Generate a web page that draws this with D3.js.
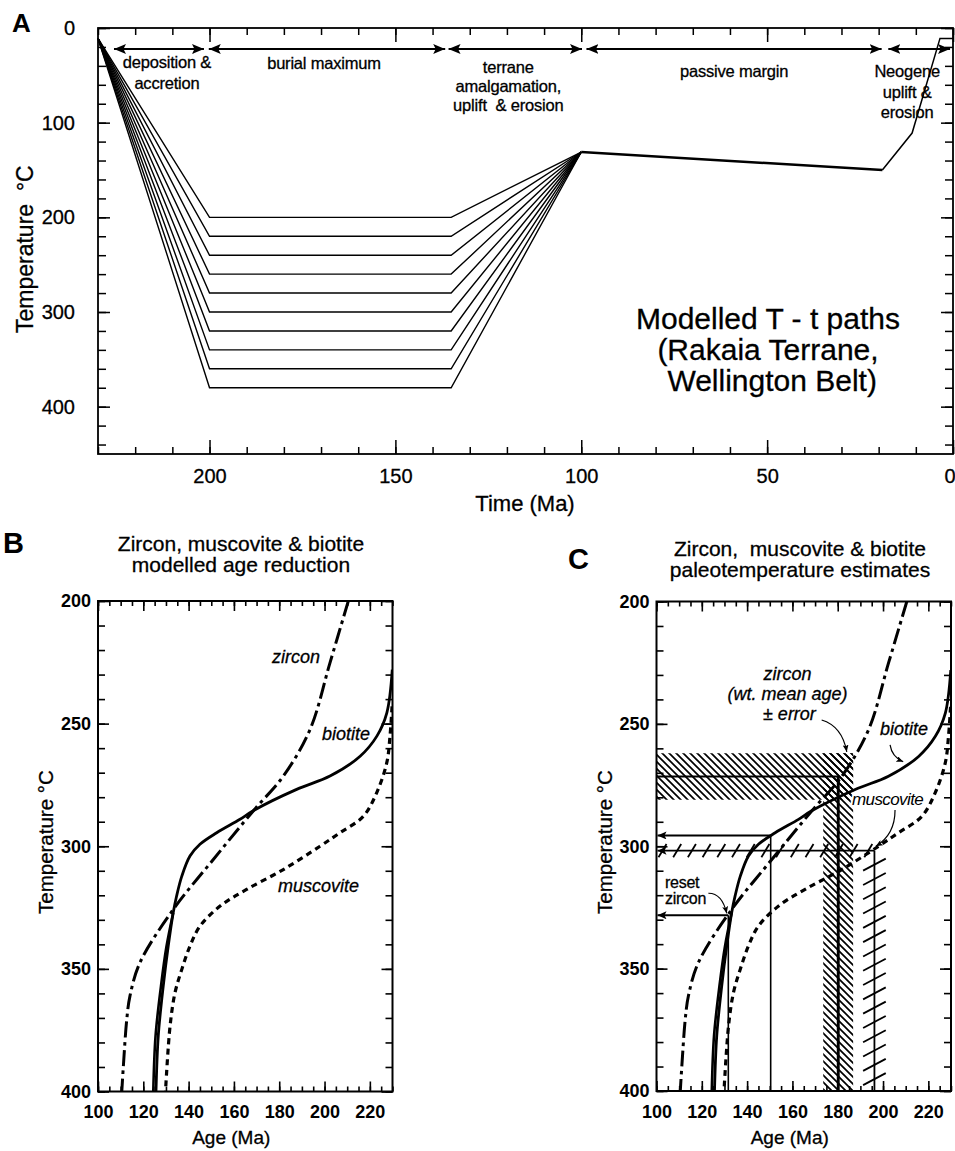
<!DOCTYPE html>
<html>
<head>
<meta charset="utf-8">
<script src="https://cdn.jsdelivr.net/npm/d3@7"></script>
<style>
body { margin: 0; background: #fff; }
svg { font-family: "Liberation Sans", Arial, Helvetica, sans-serif; }
text { white-space: pre; }
.ink { stroke: #000; stroke-width: 0.3; }
</style>
</head>
<body>
<svg id="fig" width="955" height="1151"></svg>
<script>
// ---------- panel A data : modelled T-t paths ----------
var peakTemps = [200, 220, 240, 260, 280, 300, 320, 340, 360, 380];
var burialAges = [230, 200, 135, 100];      // start, peak reached, uplift starts, join
var startTemp = 11;
var joinTemp = 131;
var passiveMargin = [[100, 131], [19, 150]];
var neogene = [[19, 150], [11, 111], [3.5, 11], [0, 11]];
var phaseArrows = [[225.7, 201.5], [200.2, 136.6], [135.7, 99.8], [98.6, 19.2], [17.4, 0.8]];
var phaseLabels = [
    ["deposition &", "accretion"],
    ["burial maximum"],
    ["terrane", "amalgamation,", "uplift  & erosion"],
    ["passive margin"],
    ["Neogene", "uplift &", "erosion"]
];
var timeTicks = [0, 50, 100, 150, 200];
var tempTicksA = [0, 100, 200, 300, 400];

// ---------- panels B and C data : age reduction curves (Ma, degC) ----------
var zircon = [[210.5, 200], [202.4, 225.2], [193.6, 252.4], [181.8, 271.4], [168.7, 285.4],
    [150.9, 305.4], [133.2, 325.8], [118.5, 347.5], [114.1, 361.1], [112.7, 370.6],
    [111.2, 389.6], [110.5, 400]];
var biotite = [[229.9, 228], [227.5, 245.6], [223.1, 255.1], [215.7, 263.3], [202.4, 271.4],
    [187.7, 276.8], [168.7, 285.4], [162.7, 289], [152.4, 294.5], [145, 299.2],
    [140.6, 304], [137, 312.2], [134.7, 320.3], [133.2, 327.1], [131, 340.7],
    [128.8, 357], [126.6, 377.4], [125.6, 400]];
var biotiteLower = [[133.2, 327.1], [130.2, 341], [127.8, 357], [125.4, 377.4], [124.4, 400]];
var muscovite = [[229.8, 243], [228.9, 255.1], [227.5, 265.8], [223.1, 278], [217.1, 287.8],
    [206.8, 294.5], [198, 300], [181.8, 309.5], [165.6, 317.6], [153.9, 324.4],
    [145, 332.6], [140.6, 340.7], [137, 350.2], [134, 359.7], [131.8, 373.4], [129.8, 400]];
var ageTicks = [100, 120, 140, 160, 180, 200, 220];
var tempTicksBC = [200, 250, 300, 350, 400];

// panel C estimates
var zirconEst = { age: 180.2, ageErr: 6.6, temp: 271.5, tempErr: 9.5 };
var muscoviteEst = { age: 196.2, ageErr: 5, temp: 301.8, tempErr: 2.7 };
var biotiteEst = { age: 150.4, temp: 295.6 };
var resetZircon = { age: 131.7, temp: 328.2 };

var svg = d3.select("#fig");
var defs = svg.append("defs");

// arrow heads
defs.append("marker").attr("id", "headA")
    .attr("viewBox", "0 0 12 10").attr("refX", 12).attr("refY", 5)
    .attr("markerWidth", 12).attr("markerHeight", 10).attr("markerUnits", "userSpaceOnUse")
    .attr("orient", "auto-start-reverse")
    .append("path").attr("d", "M0,0L12,5L0,10L2.5,5Z").attr("fill", "#000");
defs.append("marker").attr("id", "headC")
    .attr("viewBox", "0 0 9 8").attr("refX", 9).attr("refY", 4)
    .attr("markerWidth", 9).attr("markerHeight", 8).attr("markerUnits", "userSpaceOnUse")
    .attr("orient", "auto")
    .append("path").attr("d", "M0,0L9,4L0,8L2,4Z").attr("fill", "#000");
defs.append("marker").attr("id", "headS")
    .attr("viewBox", "0 0 7 6").attr("refX", 7).attr("refY", 3)
    .attr("markerWidth", 7).attr("markerHeight", 6).attr("markerUnits", "userSpaceOnUse")
    .attr("orient", "auto")
    .append("path").attr("d", "M0,0L7,3L0,6L1.5,3Z").attr("fill", "#000");

// dense back-slash hatch
defs.append("pattern").attr("id", "hatch")
    .attr("patternUnits", "userSpaceOnUse").attr("width", 7).attr("height", 7)
    .append("path").attr("d", "M-1,-1L8,8M-1,6L1,8M6,-1L8,1")
    .attr("stroke", "#000").attr("stroke-width", 1.7);

function stripAxis(sel, w) {
    sel.select(".domain").remove();
    sel.selectAll("line").attr("stroke", "#000").attr("stroke-width", w);
}

function drawAxes(g, x, y, t) {
    var xr = x.range(), yr = y.range();
    var tick = function(axis, values, len, tr) {
        g.append("g").attr("transform", tr)
            .call(axis.tickValues(values).tickSize(-len).tickFormat(""))
            .call(stripAxis, t.tickWidth);
    };
    tick(d3.axisBottom(x), t.xMinor, t.xMinorLen, "translate(0," + yr[1] + ")");
    tick(d3.axisBottom(x), t.xMajor, t.xMajorLen, "translate(0," + yr[1] + ")");
    tick(d3.axisTop(x), t.xMinor, t.xMinorLen, "translate(0," + yr[0] + ")");
    tick(d3.axisTop(x), t.xMajor, t.xMajorLen, "translate(0," + yr[0] + ")");
    tick(d3.axisLeft(y), t.yMinor, t.yMinorLen, "translate(" + xr[0] + ",0)");
    tick(d3.axisLeft(y), t.yMajor, t.yMajorLen, "translate(" + xr[0] + ",0)");
    tick(d3.axisRight(y), t.yMinor, t.yMinorLen, "translate(" + xr[1] + ",0)");
    tick(d3.axisRight(y), t.yMajor, t.yMajorLen, "translate(" + xr[1] + ",0)");

    var gx = g.append("g").attr("transform", "translate(0," + yr[1] + ")")
        .call(d3.axisBottom(x).tickValues(t.xMajor).tickSize(0).tickPadding(t.xPad).tickFormat(d3.format("d")));
    gx.select(".domain").remove();
    gx.attr("font-size", t.font).attr("font-family", null).attr("font-weight", t.weight);
    gx.selectAll("text").attr("class", t.weight == "bold" ? null : "ink");
    // keep a label that sits on the right frame inside the page
    gx.selectAll(".tick").filter(function(d) { return x(d) > 945; })
        .select("text").attr("text-anchor", "end").attr("x", 2);
    var gy = g.append("g").attr("transform", "translate(" + xr[0] + ",0)")
        .call(d3.axisLeft(y).tickValues(t.yMajor).tickSize(0).tickPadding(t.yPad).tickFormat(d3.format("d")));
    gy.select(".domain").remove();
    gy.attr("font-size", t.font).attr("font-family", null).attr("font-weight", t.weight);
    gy.selectAll("text").attr("class", t.weight == "bold" ? null : "ink");

    g.append("rect")
        .attr("x", xr[0]).attr("y", yr[0])
        .attr("width", xr[1] - xr[0]).attr("height", yr[1] - yr[0])
        .attr("fill", "none").attr("stroke", "#000").attr("stroke-width", t.frameWidth);
}

// ======================= PANEL A =======================
var xA = d3.scaleLinear().domain([230, 0]).range([98, 953]);
var yA = d3.scaleLinear().domain([0, 450]).range([28, 454]);
var gA = svg.append("g");

drawAxes(gA, xA, yA, {
    xMinor: d3.range(0, 231, 10), xMajor: timeTicks, xMinorLen: 7, xMajorLen: 14,
    yMinor: d3.range(0, 451, 20), yMajor: tempTicksA, yMinorLen: 8, yMajorLen: 12,
    xPad: 15, yPad: 23, font: 20, weight: "normal", tickWidth: 1.5, frameWidth: 1.8
});

var lineA = d3.line().x(function(d) { return xA(d[0]); }).y(function(d) { return yA(d[1]); });

gA.selectAll(".burial").data(peakTemps).enter().append("path")
    .attr("class", "burial")
    .attr("d", function(p) {
        return lineA([[burialAges[0], startTemp], [burialAges[1], p], [burialAges[2], p], [burialAges[3], joinTemp]]);
    })
    .attr("fill", "none").attr("stroke", "#000").attr("stroke-width", 1.4);

gA.append("path").attr("d", lineA(passiveMargin))
    .attr("fill", "none").attr("stroke", "#000").attr("stroke-width", 2.4);
gA.append("path").attr("d", lineA(neogene))
    .attr("fill", "none").attr("stroke", "#000").attr("stroke-width", 1.5);

// phase arrows
var arrowY = 49;
gA.selectAll(".phase").data(phaseArrows).enter().append("line")
    .attr("class", "phase")
    .attr("x1", function(d) { return xA(d[0]); })
    .attr("x2", function(d) { return xA(d[1]); })
    .attr("y1", arrowY).attr("y2", arrowY)
    .attr("stroke", "#000").attr("stroke-width", 2.2)
    .attr("marker-start", "url(#headA)").attr("marker-end", "url(#headA)");

var labelDx = [8, -3, -7, 0, -12];
var labelY = [68, 68.5, 72.5, 76.5, 77];
var labelGap = [20.5, 20, 19.3, 20, 20.5];
phaseLabels.forEach(function(lines, i) {
    var cx = (xA(phaseArrows[i][0]) + xA(phaseArrows[i][1])) / 2 + labelDx[i];
    var t = gA.append("text").attr("class", "ink").attr("text-anchor", "middle").attr("font-size", 16.5)
        .attr("letter-spacing", -0.2);
    lines.forEach(function(s, j) {
        t.append("tspan").attr("x", cx).attr("y", labelY[i] + j * labelGap[i]).text(s);
    });
});

// chart title
var titleA = ["Modelled T - t paths", "(Rakaia Terrane,", " Wellington Belt)"];
gA.append("text").attr("class", "ink").attr("text-anchor", "middle").attr("font-size", 30)
    .selectAll("tspan").data(titleA).enter().append("tspan")
    .attr("x", 768).attr("y", function(d, i) { return 329 + i * 31; })
    .text(function(d) { return d; });

gA.append("text").attr("x", 12).attr("y", 32).attr("font-size", 26).attr("font-weight", "bold").text("A");
gA.append("text").attr("class", "ink").attr("text-anchor", "middle").attr("x", 525).attr("y", 511)
    .attr("font-size", 22).text("Time (Ma)");
gA.append("text").attr("class", "ink").attr("transform", "translate(33,333) rotate(-90)")
    .attr("font-size", 23).text("Temperature  °C");

// ======================= PANELS B and C =======================
function ageTempPanel(x, y, opts) {
    var g = svg.append("g");
    var clipId = "clip" + opts.letter;
    defs.append("clipPath").attr("id", clipId).append("rect")
        .attr("x", x.range()[0]).attr("y", y.range()[0])
        .attr("width", x.range()[1] - x.range()[0]).attr("height", y.range()[1] - y.range()[0]);

    var under = g.append("g").attr("clip-path", "url(#" + clipId + ")");
    var curves = g.append("g").attr("clip-path", "url(#" + clipId + ")");
    var line = d3.line().x(function(d) { return x(d[0]); }).y(function(d) { return y(d[1]); })
        .curve(d3.curveCatmullRom.alpha(0.5));

    curves.append("path").attr("d", line(zircon)).attr("fill", "none")
        .attr("stroke", "#000").attr("stroke-width", 3).attr("stroke-dasharray", "16,4.5,3.5,4.5");
    curves.append("path").attr("d", line(muscovite)).attr("fill", "none")
        .attr("stroke", "#000").attr("stroke-width", 3.2).attr("stroke-dasharray", "6,4.5");
    curves.append("path").attr("d", line(biotite)).attr("fill", "none")
        .attr("stroke", "#000").attr("stroke-width", 2.8);
    curves.append("path").attr("d", line(biotiteLower)).attr("fill", "none")
        .attr("stroke", "#000").attr("stroke-width", 2.6);

    drawAxes(g, x, y, {
        xMinor: d3.range(100, 231, 5), xMajor: ageTicks, xMinorLen: 5, xMajorLen: 10,
        yMinor: d3.range(200, 401, 10), yMajor: tempTicksBC, yMinorLen: 7, yMajorLen: 11,
        xPad: 14, yPad: 7, font: 18, weight: "bold", tickWidth: 1.6, frameWidth: 2
    });

    var xr = x.range(), yr = y.range();
    g.append("text").attr("class", "ink").attr("text-anchor", "middle").attr("x", (xr[0] + xr[1]) / 2 - 14).attr("y", 1144)
        .attr("font-size", 19).text("Age (Ma)");
    g.append("text").attr("class", "ink").attr("transform", "translate(" + (xr[0] - 45) + ",914) rotate(-90)")
        .attr("font-size", 20.5).text("Temperature °C");
    g.append("text").attr("class", "ink").attr("text-anchor", "middle").attr("font-size", 21)
        .selectAll("tspan").data(opts.title).enter().append("tspan")
        .attr("x", opts.titleX).attr("y", function(d, i) { return opts.titleY + i * 21; })
        .text(function(d) { return d; });
    g.append("text").attr("x", opts.letterX).attr("y", opts.letterY)
        .attr("font-size", 29).attr("font-weight", "bold").text(opts.letter);
    return { g: g, under: under, curves: curves };
}

// ---- B ----
var xB = d3.scaleLinear().domain([100, 230]).range([98, 392.5]);
var yB = d3.scaleLinear().domain([200, 400]).range([601, 1091.5]);
var pB = ageTempPanel(xB, yB, {
    letter: "B", letterX: 3, letterY: 553,
    title: ["Zircon, muscovite & biotite", "modelled age reduction"], titleX: 241, titleY: 551
});
var labelsB = [["zircon", 176.8, 225.3], ["biotite", 198.9, 256.7], ["muscovite", 179.5, 318.7]];
pB.g.selectAll(".lb").data(labelsB).enter().append("text")
    .attr("class", "ink")
    .attr("x", function(d) { return xB(d[1]); }).attr("y", function(d) { return yB(d[2]); })
    .attr("font-size", 18).attr("font-style", "italic")
    .text(function(d) { return d[0]; });

// ---- C ----
var xC = d3.scaleLinear().domain([100, 230]).range([656.5, 951]);
var yC = d3.scaleLinear().domain([200, 400]).range([601.5, 1091]);
var pC = ageTempPanel(xC, yC, {
    letter: "C", letterX: 568, letterY: 569,
    title: ["Zircon,  muscovite & biotite", "paleotemperature estimates"], titleX: 800, titleY: 556
});
var u = pC.under;

// zircon wt. mean age +- error : hatched L-shaped band
u.append("rect")
    .attr("x", xC(100)).attr("y", yC(zirconEst.temp - zirconEst.tempErr))
    .attr("width", xC(zirconEst.age + zirconEst.ageErr) - xC(100))
    .attr("height", yC(zirconEst.temp + zirconEst.tempErr) - yC(zirconEst.temp - zirconEst.tempErr))
    .attr("fill", "url(#hatch)");
u.append("rect")
    .attr("x", xC(zirconEst.age - zirconEst.ageErr)).attr("y", yC(zirconEst.temp - zirconEst.tempErr))
    .attr("width", xC(zirconEst.age + zirconEst.ageErr) - xC(zirconEst.age - zirconEst.ageErr))
    .attr("height", yC(400) - yC(zirconEst.temp - zirconEst.tempErr))
    .attr("fill", "url(#hatch)");
u.append("path")
    .attr("d", "M" + xC(100) + "," + yC(zirconEst.temp) + "H" + xC(zirconEst.age) + "V" + yC(400))
    .attr("fill", "none").attr("stroke", "#000").attr("stroke-width", 2.2);
u.append("line")
    .attr("x1", xC(zirconEst.age)).attr("x2", xC(zirconEst.age))
    .attr("y1", yC(zirconEst.temp)).attr("y2", yC(400))
    .attr("stroke", "#000").attr("stroke-width", 2.8);

// muscovite: sparse slashes along both bands
var mX0 = xC(100) + 6, mX1 = xC(muscoviteEst.age + muscoviteEst.ageErr) - 4;
u.selectAll(".sh").data(d3.range(mX0, mX1, 14.7)).enter().append("line")
    .attr("x1", function(d) { return d - 4; }).attr("x2", function(d) { return d + 4; })
    .attr("y1", yC(muscoviteEst.temp + muscoviteEst.tempErr))
    .attr("y2", yC(muscoviteEst.temp - muscoviteEst.tempErr))
    .attr("stroke", "#000").attr("stroke-width", 1.8);
u.selectAll(".sv").data(d3.range(yC(muscoviteEst.temp) + 14, yC(400), 14.3)).enter().append("line")
    .attr("x1", xC(muscoviteEst.age - muscoviteEst.ageErr))
    .attr("x2", xC(muscoviteEst.age + muscoviteEst.ageErr))
    .attr("y1", function(d) { return d + 6; }).attr("y2", function(d) { return d - 6; })
    .attr("stroke", "#000").attr("stroke-width", 1.8);

// estimate lines with arrows back to the temperature axis
var estLines = [
    { est: muscoviteEst, w: 1.8 },
    { est: biotiteEst, w: 1.6 },
    { est: resetZircon, w: 1.6 }
];
estLines.forEach(function(e) {
    u.append("line")
        .attr("x1", xC(e.est.age)).attr("x2", xC(e.est.age))
        .attr("y1", yC(e.est.temp)).attr("y2", yC(400))
        .attr("stroke", "#000").attr("stroke-width", e.w);
    pC.g.append("line")
        .attr("x1", xC(e.est.age)).attr("x2", xC(100) + 1)
        .attr("y1", yC(e.est.temp)).attr("y2", yC(e.est.temp))
        .attr("stroke", "#000").attr("stroke-width", 1.8)
        .attr("marker-end", "url(#headC)");
});

// labels and pointers in C
var zirconNote = ["zircon", "(wt. mean age)", "± error"];
pC.g.append("text").attr("class", "ink").attr("text-anchor", "middle").attr("font-size", 18).attr("font-style", "italic")
    .selectAll("tspan").data(zirconNote).enter().append("tspan")
    .attr("x", function(d, i) { return xC(157.8) + (i == 2 ? 2 : 0); })
    .attr("y", function(d, i) { return yC(232.1) + i * 19.8; })
    .text(function(d) { return d; });
pC.g.append("text").attr("class", "ink").attr("text-anchor", "middle").attr("font-size", 18).attr("font-style", "italic")
    .attr("x", xC(209.3)).attr("y", yC(254.5)).text("biotite");
pC.g.append("text").attr("text-anchor", "middle").attr("font-size", 17).attr("font-style", "italic")
    .attr("letter-spacing", -0.6)
    .attr("stroke", "#fff").attr("stroke-width", 4).attr("paint-order", "stroke")
    .attr("x", xC(202)).attr("y", yC(283.1)).text("muscovite");
pC.g.append("text").attr("class", "ink").attr("font-size", 16).attr("letter-spacing", -0.3)
    .selectAll("tspan").data(["reset", "zircon"]).enter().append("tspan")
    .attr("x", xC(103.8)).attr("y", function(d, i) { return yC(317.1) + i * 15.5; })
    .text(function(d) { return d; });

var pointers = [
    [[172.9, 248.4], [181.9, 250.9], [184, 261.4]],
    [[203.1, 258.6], [203.9, 263.5], [208.9, 265.5]],
    [[205.3, 285.2], [205.3, 295.3], [196.8, 300.0]],
    [[122.9, 319.2], [128.9, 319.1], [131, 327.4]]
];
pC.g.selectAll(".ptr").data(pointers).enter().append("path")
    .attr("d", function(p) {
        return "M" + xC(p[0][0]) + "," + yC(p[0][1]) + "Q" + xC(p[1][0]) + "," + yC(p[1][1]) +
            " " + xC(p[2][0]) + "," + yC(p[2][1]);
    })
    .attr("fill", "none").attr("stroke", "#000").attr("stroke-width", 1.2)
    .attr("marker-end", "url(#headS)");
</script>
</body>
</html>
